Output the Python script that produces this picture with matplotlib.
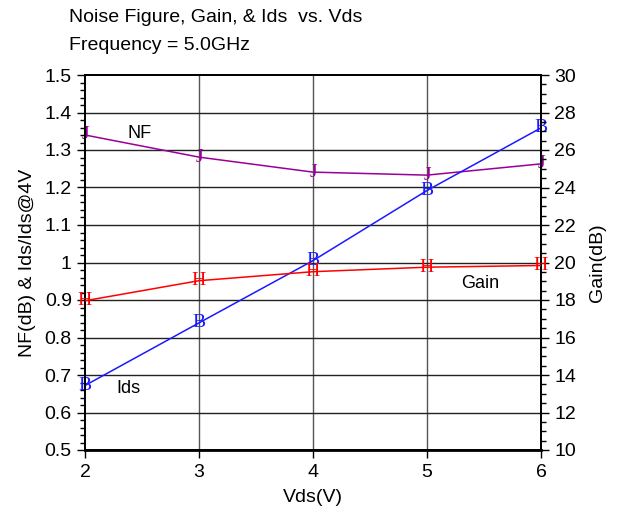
import matplotlib
matplotlib.use("Agg")
import matplotlib.pyplot as plt
from matplotlib.ticker import MultipleLocator, FormatStrFormatter, FuncFormatter

# data
vds = [2, 3, 4, 5, 6]
nf_db = [1.34, 1.281, 1.241, 1.233, 1.263]
ids_norm = [0.672, 0.839, 1.005, 1.192, 1.359]
gain_db = [17.96, 19.03, 19.51, 19.75, 19.84]

plt.rcParams["font.family"] = ["Liberation Sans", "DejaVu Sans"]

fig = plt.figure(figsize=(6.21, 5.14), dpi=100)
ax = fig.add_axes([85 / 621, 1 - 450 / 514, 456 / 621, 375 / 514])
ax2 = ax.twinx()

nf_c = "#990099"
gain_c = "#ff0000"
ids_c = "#1a1aff"

ax.set_xlim(2, 6)
ax.set_ylim(0.5, 1.5)
ax2.set_ylim(10, 30)

# grid
for x in vds[1:-1]:
    ax.axvline(x, color="#555555", lw=1.0, zorder=0)
for i in range(1, 10):
    ax.axhline(0.5 + i * 0.1, color="#222222", lw=1.0, zorder=0)

ax.plot(vds, nf_db, color=nf_c, lw=1.1, zorder=3)
ax.plot(vds, ids_norm, color=ids_c, lw=1.1, zorder=3)
ax2.plot(vds, gain_db, color=gain_c, lw=1.1, zorder=3)

mk = dict(family="Liberation Serif", fontsize=14, ha="center", va="center",
          clip_on=False, zorder=4)
for x, y in zip(vds, nf_db):
    ax.text(x, y, "J", color=nf_c, **mk)
for x, y in zip(vds, ids_norm):
    ax.text(x, y, "B", color=ids_c, **mk)
for x, y in zip(vds, gain_db):
    ax2.text(x, y, "H", color=gain_c, **mk)

ax.text(2.48, 1.345, "NF", fontsize=13, ha="center", va="center")
ax.text(5.47, 0.943, "Gain", fontsize=13, ha="center", va="center")
ax.text(2.38, 0.665, "Ids", fontsize=13, ha="center", va="center")

ax.xaxis.set_major_locator(MultipleLocator(1))
ax.yaxis.set_major_locator(MultipleLocator(0.1))
ax.yaxis.set_minor_locator(MultipleLocator(0.02))
ax.yaxis.set_major_formatter(FuncFormatter(lambda v, p: f"{v:g}"))
ax2.yaxis.set_major_locator(MultipleLocator(2))
ax2.yaxis.set_minor_locator(MultipleLocator(0.5))
ax2.yaxis.set_major_formatter(FormatStrFormatter("%d"))

for a in (ax, ax2):
    a.tick_params(which="major", direction="out", length=5.5, width=1.0,
                  labelsize=14, pad=4, color="black")
    a.tick_params(which="minor", direction="out", length=3.5, width=1.0)
    for s in a.spines.values():
        s.set_linewidth(1.3)
ax.tick_params(axis="x", length=6, pad=4)
ax.spines["bottom"].set_linewidth(2)

ax.set_xlabel("Vds(V)", fontsize=14, labelpad=6)
ax.set_ylabel("NF(dB) & Ids/Ids@4V", fontsize=14, labelpad=6)
ax2.set_ylabel("Gain(dB)", fontsize=14, labelpad=9)

fig.text(69 / 621, 1 - 18 / 514, "Noise Figure, Gain, & Ids  vs. Vds",
         fontsize=14, ha="left", va="center")
fig.text(69 / 621, 1 - 45 / 514, "Frequency = 5.0GHz",
         fontsize=14, ha="left", va="center")

fig.savefig("out.png", dpi=100)
